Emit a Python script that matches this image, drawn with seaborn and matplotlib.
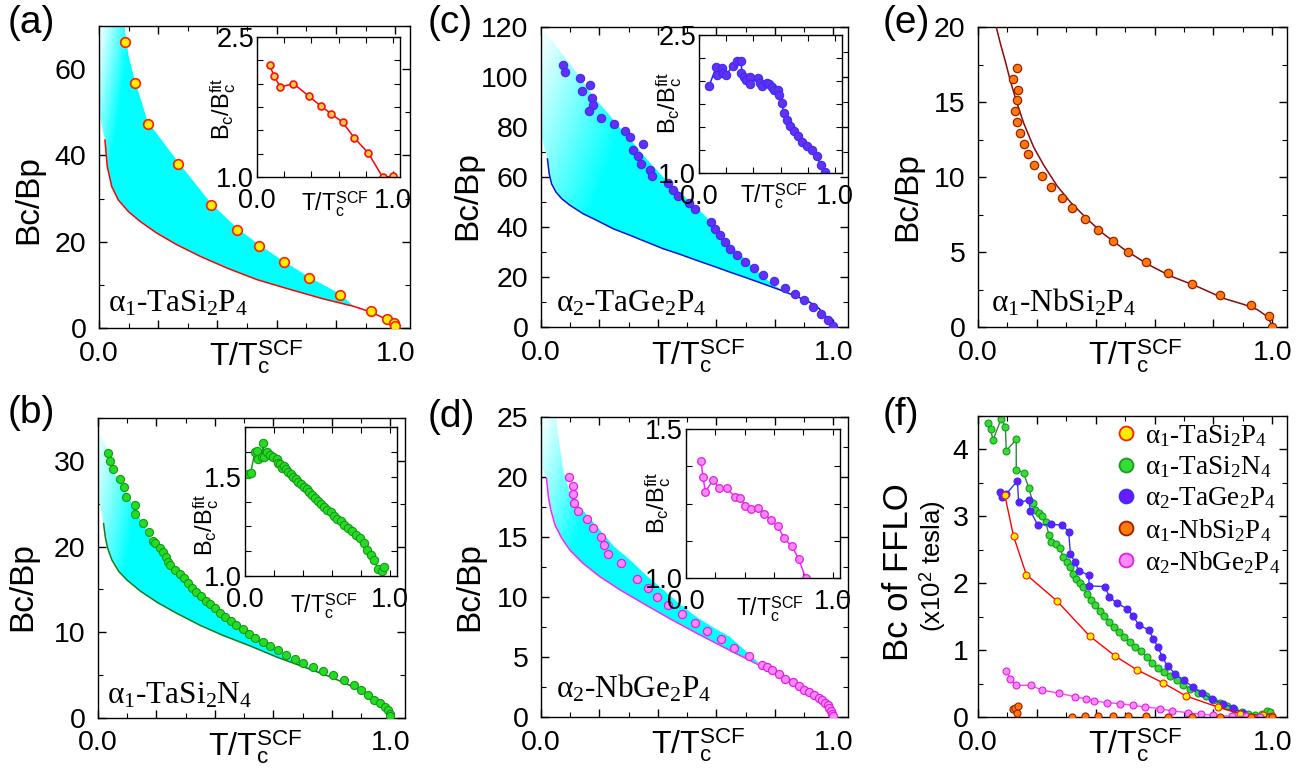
import numpy as np
import matplotlib
matplotlib.use('Agg')
import matplotlib.pyplot as plt
import seaborn as sns
from matplotlib.lines import Line2D
from matplotlib.ticker import MultipleLocator, FuncFormatter

# ---------------- data ----------------
# (a) alpha1-TaSi2P4
a_T = [0.088, 0.121, 0.165, 0.267, 0.378, 0.467, 0.540, 0.625, 0.709, 0.814, 0.918, 0.974, 0.997, 1.0]
a_B = [66.3, 56.9, 47.4, 38.0, 28.5, 22.8, 19.0, 15.3, 11.6, 7.7, 3.9, 2.1, 1.2, 0.4]
a_fit_T = [0.020, 0.028, 0.043, 0.065, 0.099, 0.139, 0.195, 0.263, 0.342, 0.432, 0.534, 0.647, 0.760, 0.861, 0.918, 0.974, 1.0]
a_fit_B = [43.6, 37.4, 32.8, 29.7, 27.0, 24.7, 22.0, 19.3, 16.6, 13.9, 11.2, 8.9, 6.7, 5.0, 3.7, 1.9, 0.0]
a_top_T = [0.0, 0.0, 0.082, 0.10, 0.121, 0.165, 0.267, 0.378, 0.467, 0.540, 0.625, 0.709, 0.814, 0.861]
a_top_B = [50.0, 72.0, 72.0, 63.0, 57.4, 47.8, 38.5, 28.9, 23.1, 19.3, 15.4, 11.8, 7.9, 5.0]
a_in_T = [0.093, 0.127, 0.171, 0.268, 0.383, 0.471, 0.544, 0.629, 0.715, 0.817, 0.922, 1.0]
a_in_R = [2.196, 2.079, 1.964, 2.0, 1.864, 1.757, 1.679, 1.586, 1.418, 1.257, 1.0, 1.007]

# (b) alpha1-TaSi2N4
b_T = [0.033, 0.042, 0.051, 0.076, 0.090, 0.095, 0.128, 0.128, 0.154, 0.173, 0.188, 0.196, 0.211, 0.221,
       0.233, 0.240, 0.247, 0.265, 0.282, 0.293, 0.307, 0.322, 0.336, 0.352, 0.368, 0.384, 0.401, 0.418,
       0.436, 0.455, 0.473, 0.495, 0.517, 0.538, 0.563, 0.587, 0.615, 0.643, 0.673, 0.702, 0.734, 0.769,
       0.804, 0.840, 0.875, 0.901, 0.924, 0.945, 0.966, 0.983, 0.992, 0.998, 1.0]
b_B = [30.97, 30.0, 29.0, 27.9, 26.9, 25.8, 24.8, 23.8, 22.8, 21.7, 20.7, 20.4, 19.8, 19.4,
       18.8, 18.2, 17.8, 17.3, 16.8, 16.3, 15.8, 15.2, 14.7, 14.2, 13.7, 13.3, 12.8, 12.3,
       11.8, 11.3, 10.8, 10.4, 9.8, 9.3, 8.9, 8.4, 7.9, 7.4, 6.9, 6.4, 5.95, 5.45,
       4.98, 4.47, 3.89, 3.23, 2.65, 2.06, 1.75, 1.28, 0.89, 0.51, 0.19]
b_fit_T = [0.019, 0.025, 0.033, 0.048, 0.071, 0.099, 0.145, 0.202, 0.270, 0.350, 0.430, 0.521, 0.612,
           0.704, 0.795, 0.875, 0.932, 0.971, 0.994, 1.0]
b_fit_B = [22.7, 21.1, 19.8, 18.4, 17.1, 16.1, 14.8, 13.5, 12.2, 10.8, 9.6, 8.4, 7.1,
           5.95, 4.8, 3.6, 2.65, 1.9, 1.1, 0.1]
b_top_T = [0.0, 0.0, 0.033, 0.05, 0.09, 0.128, 0.17, 0.19, 0.24, 0.30, 0.40, 0.50, 0.60, 0.70, 0.80, 0.875]
b_top_B = [26.0, 33.5, 31.3, 29.0, 26.7, 24.2, 21.6, 20.2, 17.8, 15.7, 12.6, 10.2, 8.1, 6.3, 4.8, 3.6]
b_in_T = [0.023, 0.039, 0.069, 0.085, 0.092, 0.115, 0.126, 0.131, 0.149, 0.172, 0.195, 0.218, 0.225,
          0.241, 0.253, 0.269, 0.283, 0.299, 0.315, 0.333, 0.352, 0.368, 0.386, 0.405, 0.425, 0.444,
          0.462, 0.483, 0.501, 0.522, 0.545, 0.568, 0.591, 0.614, 0.637, 0.660, 0.685, 0.710, 0.738,
          0.766, 0.793, 0.821, 0.846, 0.869, 0.890, 0.920, 0.943, 0.959]
b_in_R = [1.515, 1.52, 1.625, 1.63, 1.588, 1.597, 1.669, 1.60, 1.622, 1.608, 1.597, 1.588, 1.571,
          1.563, 1.546, 1.554, 1.537, 1.524, 1.512, 1.50, 1.486, 1.473, 1.461, 1.449, 1.436, 1.422,
          1.41, 1.393, 1.376, 1.363, 1.347, 1.334, 1.32, 1.303, 1.288, 1.275, 1.258, 1.241, 1.224,
          1.207, 1.19, 1.164, 1.131, 1.105, 1.08, 1.037, 1.024, 1.046]

# (c) alpha2-TaGe2P4
c_T = [0.074, 0.081, 0.134, 0.140, 0.167, 0.175, 0.179, 0.165, 0.204, 0.248, 0.288, 0.305, 0.316, 0.332,
       0.341, 0.349, 0.374, 0.379, 0.433, 0.452, 0.469, 0.507, 0.528, 0.580, 0.596, 0.611, 0.628, 0.646,
       0.672, 0.699, 0.730, 0.758, 0.797, 0.835, 0.868, 0.898, 0.931, 0.958, 0.982, 1.0]
c_B = [104.9, 102.0, 99.6, 94.3, 96.9, 91.7, 88.9, 86.4, 83.7, 81.2, 78.5, 76.0, 70.7, 68.3,
       65.3, 73.2, 62.9, 60.3, 57.6, 54.9, 52.3, 49.6, 47.1, 42.0, 39.3, 36.7, 34.0, 31.3,
       28.7, 26.0, 23.6, 20.9, 18.4, 15.7, 13.1, 10.7, 8.1, 5.3, 2.7, 0.3]
c_fit_T = [0.022, 0.028, 0.036, 0.051, 0.071, 0.099, 0.144, 0.190, 0.247, 0.304, 0.361, 0.418, 0.475,
           0.531, 0.588, 0.645, 0.702, 0.759, 0.816, 0.873, 0.918, 0.952, 0.981, 1.0]
c_fit_B = [67.3, 61.3, 57.3, 54.0, 51.3, 48.7, 45.3, 42.7, 39.3, 36.7, 34.0, 31.3, 29.1,
           26.7, 24.4, 22.0, 19.7, 17.3, 14.9, 12.3, 10.0, 7.3, 3.3, 0.0]
c_top_T = [0.0, 0.0, 0.076, 0.133, 0.19, 0.235, 0.281, 0.327, 0.36, 0.418, 0.474, 0.531, 0.588, 0.645,
           0.702, 0.759, 0.816, 0.861]
c_top_B = [77.0, 120.0, 108.7, 100.0, 90.7, 84.7, 78.0, 72.0, 67.3, 60.0, 54.0, 48.0, 41.3, 33.3,
           26.7, 20.0, 15.3, 12.0]
c_in_T = [0.074, 0.128, 0.135, 0.172, 0.177, 0.201, 0.246, 0.280, 0.312, 0.312, 0.329, 0.344, 0.373,
          0.378, 0.430, 0.447, 0.464, 0.501, 0.516, 0.533, 0.550, 0.577, 0.590, 0.607, 0.624, 0.644,
          0.668, 0.698, 0.730, 0.754, 0.791, 0.828, 0.865, 0.894, 0.926, 0.939]
c_in_R = [1.947, 2.157, 2.066, 2.146, 2.091, 2.066, 2.164, 2.218, 2.218, 2.091, 2.048, 2.012, 2.041,
          1.965, 2.037, 1.983, 1.951, 1.976, 1.969, 1.94, 1.904, 1.904, 1.85, 1.759, 1.65, 1.578,
          1.506, 1.452, 1.398, 1.332, 1.289, 1.246, 1.188, 1.083, 1.007, 0.96]

# (d) alpha2-NbGe2P4
d_T = [0.097, 0.108, 0.110, 0.113, 0.127, 0.156, 0.179, 0.204, 0.215, 0.228, 0.273, 0.329, 0.366,
       0.397, 0.435, 0.482, 0.526, 0.569, 0.617, 0.659, 0.711, 0.757, 0.772, 0.791, 0.813, 0.836,
       0.861, 0.882, 0.901, 0.918, 0.935, 0.950, 0.961, 0.971, 0.980, 0.986, 0.992, 0.995, 0.998]
d_B = [20.04, 19.29, 18.6, 17.87, 17.18, 16.48, 15.73, 15.03, 14.34, 13.61, 12.86, 11.47, 10.72,
       10.02, 9.3, 8.55, 7.85, 7.15, 6.46, 5.76, 5.07, 4.37, 4.18, 3.9, 3.56, 3.2,
       2.92, 2.56, 2.28, 2.09, 1.81, 1.61, 1.39, 1.2, 0.97, 0.75, 0.5, 0.28, 0.08]
d_fit_T = [0.019, 0.025, 0.033, 0.048, 0.071, 0.099, 0.144, 0.201, 0.270, 0.349, 0.440, 0.531, 0.622,
           0.713, 0.804, 0.873, 0.929, 0.969, 0.992, 1.0]
d_fit_B = [19.9, 18.4, 17.3, 16.0, 14.9, 13.9, 12.8, 11.7, 10.6, 9.47, 8.2, 7.0, 5.85,
           4.73, 3.62, 2.92, 2.17, 1.39, 0.7, 0.0]
d_top_T = [0.0, 0.0, 0.05, 0.059, 0.076, 0.099, 0.133, 0.19, 0.25, 0.304, 0.36, 0.418, 0.48, 0.531,
           0.60, 0.645, 0.70, 0.75]
d_top_B = [21.0, 25.5, 25.5, 23.4, 20.6, 18.65, 17.5, 15.9, 14.2, 13.1, 11.8, 10.6, 9.3, 8.35,
           7.3, 6.7, 5.5, 4.4]
d_in_T = [0.102, 0.116, 0.132, 0.185, 0.225, 0.278, 0.333, 0.370, 0.403, 0.444, 0.491, 0.532, 0.579,
          0.625, 0.669, 0.722, 0.769, 0.815]
d_in_R = [1.393, 1.338, 1.290, 1.329, 1.301, 1.301, 1.273, 1.270, 1.243, 1.232, 1.234, 1.215, 1.195,
          1.173, 1.134, 1.106, 1.064, 1.0]

# (e) alpha1-NbSi2P4
e_T = [0.133, 0.118, 0.137, 0.133, 0.127, 0.134, 0.142, 0.158, 0.169, 0.190, 0.218, 0.249, 0.285,
       0.320, 0.365, 0.408, 0.459, 0.510, 0.571, 0.646, 0.728, 0.822, 0.927, 0.989, 1.0]
e_B = [17.27, 16.53, 15.82, 15.11, 14.38, 13.64, 12.93, 12.22, 11.51, 10.8, 10.07, 9.36, 8.62,
       7.91, 7.18, 6.47, 5.76, 5.02, 4.31, 3.6, 2.87, 2.16, 1.44, 0.73, 0.0]
e_fit_T = [0.062, 0.076, 0.093, 0.110, 0.133, 0.155, 0.189, 0.223, 0.269, 0.315, 0.371, 0.427, 0.495,
           0.575, 0.654, 0.745, 0.836, 0.904, 0.949, 0.977, 0.992, 1.0]
e_fit_B = [20.0, 18.9, 17.7, 16.4, 14.9, 13.6, 12.0, 10.8, 9.4, 8.3, 7.2, 6.2, 5.2,
           4.2, 3.4, 2.7, 1.9, 1.5, 1.16, 0.78, 0.4, 0.0]

# (f) Bc of FFLO (x10^2 tesla)
f1_T = [0.091, 0.121, 0.164, 0.268, 0.379, 0.467, 0.539, 0.627, 0.707, 0.814, 0.890, 0.970, 0.998]
f1_B = [3.317, 2.70, 2.13, 1.736, 1.212, 0.908, 0.708, 0.514, 0.314, 0.15, 0.05, 0.025, 0.015]
f2_T = [0.034, 0.043, 0.051, 0.079, 0.093, 0.096, 0.130, 0.130, 0.155, 0.172, 0.187, 0.195, 0.206,
        0.219, 0.230, 0.241, 0.249, 0.266, 0.280, 0.289, 0.303, 0.312, 0.323, 0.334, 0.346, 0.357,
        0.371, 0.385, 0.399, 0.414, 0.429, 0.446, 0.463, 0.480, 0.497, 0.516, 0.535, 0.553, 0.573,
        0.592, 0.612, 0.633, 0.652, 0.675, 0.697, 0.720, 0.748, 0.774, 0.799, 0.822, 0.847, 0.871,
        0.896, 0.918, 0.941, 0.964, 0.981, 0.992]
f2_B = [4.40, 4.30, 4.14, 4.46, 4.34, 3.98, 4.15, 3.70, 3.65, 3.43, 3.20, 3.10, 3.05,
        3.00, 2.92, 2.72, 2.62, 2.58, 2.52, 2.39, 2.32, 2.24, 2.14, 2.07, 2.00, 1.94,
        1.84, 1.75, 1.67, 1.59, 1.51, 1.42, 1.35, 1.27, 1.20, 1.12, 1.05, 0.98, 0.90,
        0.81, 0.73, 0.67, 0.61, 0.55, 0.48, 0.42, 0.36, 0.31, 0.26, 0.21, 0.17, 0.12,
        0.07, 0.05, 0.035, 0.05, 0.09, 0.075]
f3_T = [0.074, 0.082, 0.095, 0.134, 0.138, 0.173, 0.178, 0.203, 0.249, 0.285, 0.308, 0.314, 0.330,
        0.342, 0.376, 0.378, 0.431, 0.446, 0.471, 0.507, 0.527, 0.546, 0.580, 0.596, 0.612, 0.626,
        0.644, 0.669, 0.699, 0.730, 0.760, 0.795, 0.833, 0.868, 0.899]
f3_B = [3.37, 3.29, 3.33, 3.53, 3.21, 3.24, 3.08, 2.87, 2.88, 2.87, 2.77, 2.44, 2.31,
        2.19, 2.12, 1.96, 1.95, 1.80, 1.70, 1.62, 1.51, 1.38, 1.30, 1.17, 1.04, 0.90,
        0.76, 0.65, 0.55, 0.45, 0.36, 0.27, 0.20, 0.14, 0.06]
f4_T = [0.118, 0.127, 0.133, 0.137, 0.320, 0.365, 0.408, 0.459, 0.510, 0.571, 0.646, 0.728, 0.822,
        0.927, 0.989, 1.0]
f4_B = [0.12, 0.14, 0.06, 0.17, 0.005, 0.01, 0.01, 0.01, 0.01, 0.01, 0.005, 0.005, 0.005,
        0.005, 0.005, 0.0]
f5_T = [0.096, 0.110, 0.128, 0.179, 0.218, 0.274, 0.331, 0.366, 0.395, 0.437, 0.482, 0.526, 0.569,
        0.618, 0.660, 0.714, 0.757, 0.799, 0.862, 0.912, 0.958, 0.992]
f5_B = [0.683, 0.574, 0.474, 0.474, 0.40, 0.359, 0.30, 0.274, 0.239, 0.214, 0.20, 0.175, 0.15,
        0.125, 0.09, 0.065, 0.04, 0.025, 0.01, 0.01, 0.0, 0.0]

names = [r'$\mathrm{\alpha}_1$-TaSi$_2$P$_4$', r'$\mathrm{\alpha}_1$-TaSi$_2$N$_4$',
         r'$\mathrm{\alpha}_2$-TaGe$_2$P$_4$', r'$\mathrm{\alpha}_1$-NbSi$_2$P$_4$',
         r'$\mathrm{\alpha}_2$-NbGe$_2$P$_4$']

# ---------------- style ----------------
sns.set_style('ticks')
plt.rcParams['font.family'] = ['Liberation Sans', 'DejaVu Sans']
plt.rcParams['mathtext.fontset'] = 'custom'
plt.rcParams['mathtext.rm'] = 'Liberation Serif'
plt.rcParams['mathtext.it'] = 'Liberation Serif:italic'
plt.rcParams['mathtext.sf'] = 'Liberation Sans'
plt.rcParams['axes.linewidth'] = 1.0
for k in ['text.color', 'axes.labelcolor', 'xtick.color', 'ytick.color', 'axes.edgecolor']:
    plt.rcParams[k] = 'black'

W, H = 1312, 769
fig = plt.figure(figsize=(W / 100, H / 100), dpi=100)


def add_ax(l, t, r, b, z=1):
    ax = fig.add_axes([l / W, 1 - b / H, (r - l) / W, (b - t) / H])
    ax.set_zorder(z)
    ax.set_facecolor('white')
    return ax


def only(vals, fmt):
    return FuncFormatter(lambda v, p: fmt.format(v) if any(abs(v - q) < 1e-6 for q in vals) else '')


def style_main(ax, ytop, ymaj, ymin, ypad=9):
    ax.set_xlim(0, 1.05)
    ax.set_ylim(0, ytop)
    ax.xaxis.set_major_locator(MultipleLocator(0.2))
    ax.xaxis.set_minor_locator(MultipleLocator(0.1))
    ax.xaxis.set_major_formatter(only([0.0, 1.0], '{:.1f}'))
    ax.yaxis.set_major_locator(MultipleLocator(ymaj))
    ax.yaxis.set_minor_locator(MultipleLocator(ymin))
    ax.tick_params(which='both', direction='in', top=True, right=True, labelsize=20.5, pad=9)
    ax.tick_params(axis='y', which='both', pad=ypad)
    ax.tick_params(which='major', length=6, width=1)
    ax.tick_params(which='minor', length=3.5, width=0.8)
    ax.set_xlabel('')
    ax.set_ylabel('')


def style_inset(ax, ylo, yhi, ystep, ylabs):
    ax.set_xlim(0, 1.05)
    ax.set_ylim(ylo, yhi)
    ax.xaxis.set_major_locator(MultipleLocator(0.2))
    ax.xaxis.set_major_formatter(only([0.0, 1.0], '{:.1f}'))
    ax.yaxis.set_major_locator(MultipleLocator(ystep))
    ax.yaxis.set_major_formatter(only(ylabs, '{:.1f}'))
    ax.tick_params(which='both', direction='in', top=True, right=True, labelsize=19.5, length=4)
    ax.tick_params(axis='x', pad=8)
    ax.tick_params(axis='y', pad=2)
    ax.set_xlabel('')
    ax.set_ylabel('')


def grad_fill(ax, top_T, top_B, fit_T, fit_B, ytop, xw, yw):
    mx = top_T[-1]
    lx = [t for t in fit_T if t <= mx]
    ly = [b for t, b in zip(fit_T, fit_B) if t <= mx]
    poly = ax.fill(list(top_T) + lx[::-1], list(top_B) + ly[::-1], facecolor='none', edgecolor='none')[0]
    X, Y = np.meshgrid(np.linspace(0, 1.05, 400), np.linspace(0, ytop * 1.1, 400))
    t = np.clip(X / xw + (ytop - Y) / yw, 0, 1)
    rgba = np.ones(X.shape + (4,))
    rgba[..., 0] = 1 - t
    im = ax.imshow(rgba, extent=[0, 1.05, 0, ytop * 1.1], origin='lower', aspect='auto',
                   zorder=1, interpolation='bilinear')
    im.set_clip_path(poly)


def pxtext(x, y, s, **kw):
    fig.text(x / W, 1 - y / H, s, **kw)


XLAB = r'T/T$_{\mathsf{c}}^{\mathsf{SCF}}$'
ILAB = r'B$_{\mathsf{c}}$/B$_{\mathsf{c}}^{\mathsf{fit}}$'


def main_labels(rect, ylab_xy, formula, fxy):
    l, t, r, b = rect
    pxtext(ylab_xy[0], ylab_xy[1], 'Bc/Bp', rotation=90, ha='center', va='center', fontsize=24)
    pxtext(l + 110, b + 38, XLAB, ha='left', va='baseline', fontsize=23)
    pxtext(l + fxy[0], b - fxy[1], formula, ha='left', va='baseline', fontsize=22.5,
           family=['Liberation Serif', 'DejaVu Serif'])


def inset_labels(xlab_xy, ylab_xy):
    pxtext(xlab_xy[0], xlab_xy[1], XLAB, ha='left', va='baseline', fontsize=16.5)
    pxtext(ylab_xy[0], ylab_xy[1], ILAB, rotation=90, ha='center', va='center', fontsize=17)


RA = (99, 26, 410, 328)
RC = (541, 27, 848, 327)
RE = (978, 27, 1287, 327)
RB = (98, 418, 405, 718)
RD = (541, 417, 848, 717)
RF = (978, 416, 1287, 717)
IA = (257, 37, 400, 177)
IC = (699, 35, 842, 173)
IB = (245, 427, 397, 576)
ID = (686, 429, 840, 578)

# ---------------- (a) ----------------
ax = add_ax(*RA)
grad_fill(ax, a_top_T, a_top_B, a_fit_T, a_fit_B, 70, 0.11, 50)
ax.plot(a_fit_T, a_fit_B, color='#ff0000', lw=1.1, zorder=3)
sns.scatterplot(x=a_T, y=a_B, ax=ax, s=48, color='#ffee00', edgecolor='#ff2000', linewidth=1.2, zorder=4)
style_main(ax, 70, 20, 10)
main_labels(RA, (29, 200), names[0], (9, 16))

ax = add_ax(*IA, z=2)
sns.lineplot(x=a_in_T, y=a_in_R, ax=ax, sort=False, estimator=None, color='#ff0000', lw=1.1,
             marker='o', markersize=5, markerfacecolor='#ffcc44', markeredgecolor='#ff1010', markeredgewidth=1.2)
style_inset(ax, 1.0, 2.5, 0.25, [1.0, 2.5])
inset_labels((301, 211), (223, 109))

# ---------------- (c) ----------------
ax = add_ax(*RC)
grad_fill(ax, c_top_T, c_top_B, c_fit_T, c_fit_B, 120, 0.4, 130)
ax.plot(c_fit_T, c_fit_B, color='#1010d0', lw=1.1, zorder=3)
sns.scatterplot(x=c_T, y=c_B, ax=ax, s=36, color='#6a2ef0', edgecolor='#3030ff', linewidth=0.8, zorder=4)
style_main(ax, 120, 20, 10)
main_labels(RC, (468, 196), names[2], (15, 15))

ax = add_ax(*IC, z=2)
sns.lineplot(x=c_in_T, y=c_in_R, ax=ax, sort=False, estimator=None, color='#2020ff', lw=1.1,
             marker='o', markersize=6, markerfacecolor='#6a2ef0', markeredgecolor='#3030ff', markeredgewidth=0.8)
style_inset(ax, 1.0, 2.5, 0.25, [1.0, 2.5])
inset_labels((740, 203), (669, 103))

# ---------------- (e) ----------------
ax = add_ax(*RE)
ax.plot(e_fit_T, e_fit_B, color='#8b0a0a', lw=1.1, zorder=3)
sns.scatterplot(x=e_T, y=e_B, ax=ax, s=36, color='#ff7a0a', edgecolor='#9a2000', linewidth=0.9, zorder=4)
style_main(ax, 20, 5, 2.5)
main_labels(RE, (908, 197), names[3], (13, 16))

# ---------------- (b) ----------------
ax = add_ax(*RB)
grad_fill(ax, b_top_T, b_top_B, b_fit_T, b_fit_B, 35, 0.18, 36)
ax.plot(b_fit_T, b_fit_B, color='#1a7a1a', lw=1.1, zorder=3)
sns.scatterplot(x=b_T, y=b_B, ax=ax, s=34, color='#22dd22', edgecolor='#169916', linewidth=0.8, zorder=4)
style_main(ax, 35, 10, 5)
main_labels(RB, (23, 587), names[1], (9, 15))

ax = add_ax(*IB, z=2)
sns.lineplot(x=b_in_T, y=b_in_R, ax=ax, sort=False, estimator=None, color='#1a9a1a', lw=1.1,
             marker='o', markersize=6, markerfacecolor='#22dd22', markeredgecolor='#169916', markeredgewidth=0.8)
style_inset(ax, 1.0, 1.75, 0.125, [1.0, 1.5])
inset_labels((290, 613), (206, 525))

# ---------------- (d) ----------------
ax = add_ax(*RD)
grad_fill(ax, d_top_T, d_top_B, d_fit_T, d_fit_B, 25, 0.25, 20)
ax.plot(d_fit_T, d_fit_B, color='#ff22ff', lw=1.1, zorder=3)
sns.scatterplot(x=d_T, y=d_B, ax=ax, s=34, color='#ff88ff', edgecolor='#e020e0', linewidth=0.9, zorder=4)
style_main(ax, 25, 5, 2.5)
main_labels(RD, (470, 587), names[4], (15, 19))

ax = add_ax(*ID, z=2)
sns.lineplot(x=d_in_T, y=d_in_R, ax=ax, sort=False, estimator=None, color='#ff22ff', lw=1.1,
             marker='o', markersize=5.5, markerfacecolor='#ff88ff', markeredgecolor='#e020e0', markeredgewidth=0.9)
style_inset(ax, 1.0, 1.5, 0.125, [1.0, 1.5])
inset_labels((736, 616), (658, 503))

# ---------------- (f) ----------------
ax = add_ax(*RF)
series = [
    (f2_T, f2_B, '#2a8a3a', '#33dd33', '#1a9a1a'),
    (f3_T, f3_B, '#3333ff', '#6a1aff', '#3030ff'),
    (f1_T, f1_B, '#ff0000', '#ffee00', '#ff2000'),
    (f5_T, f5_B, '#ff44ff', '#ff88ff', '#e020e0'),
]
for xs, ys, lc, fc, ec in series:
    sns.lineplot(x=xs, y=ys, ax=ax, sort=False, estimator=None, color=lc, lw=1.0,
                 marker='o', markersize=5, markerfacecolor=fc, markeredgecolor=ec, markeredgewidth=0.8)
sns.scatterplot(x=f4_T, y=f4_B, ax=ax, s=26, color='#ff7a0a', edgecolor='#9a2000', linewidth=0.8, zorder=4)
style_main(ax, 4.5, 1, 0.5, ypad=7)
pxtext(RF[0] + 110, RF[3] + 38, XLAB, ha='left', va='baseline', fontsize=23)
pxtext(899, 572, 'Bc of FFLO', rotation=90, ha='center', va='center', fontsize=25)
pxtext(933, 566, r'(x10$^{\mathsf{2}}$ tesla)', rotation=90, ha='center', va='center', fontsize=18.5)

leg_style = [('#ffee00', '#ff2000'), ('#33dd33', '#1a9a1a'), ('#6a1aff', '#3030ff'),
             ('#ff7a0a', '#9a2000'), ('#ff88ff', '#e020e0')]
handles = [Line2D([], [], ls='none', marker='o', markersize=10, markerfacecolor=fc, markeredgecolor=ec,
                  markeredgewidth=1.3) for fc, ec in leg_style]
ax.legend(handles, names, loc='upper right', bbox_to_anchor=(1.0, 1.0), frameon=False,
          prop={'family': 'Liberation Serif', 'size': 19.5}, handlelength=0.8, handletextpad=0.3,
          labelspacing=0.2, borderaxespad=0.1, borderpad=0.15)

# panel letters
for s, x, y in [('(a)', 8, 23), ('(c)', 428, 23), ('(e)', 883, 23),
                ('(b)', 8, 413), ('(d)', 428, 417), ('(f)', 883, 415)]:
    pxtext(x, y, s, ha='left', va='center', fontsize=28)

fig.savefig('out.png', dpi=100)
